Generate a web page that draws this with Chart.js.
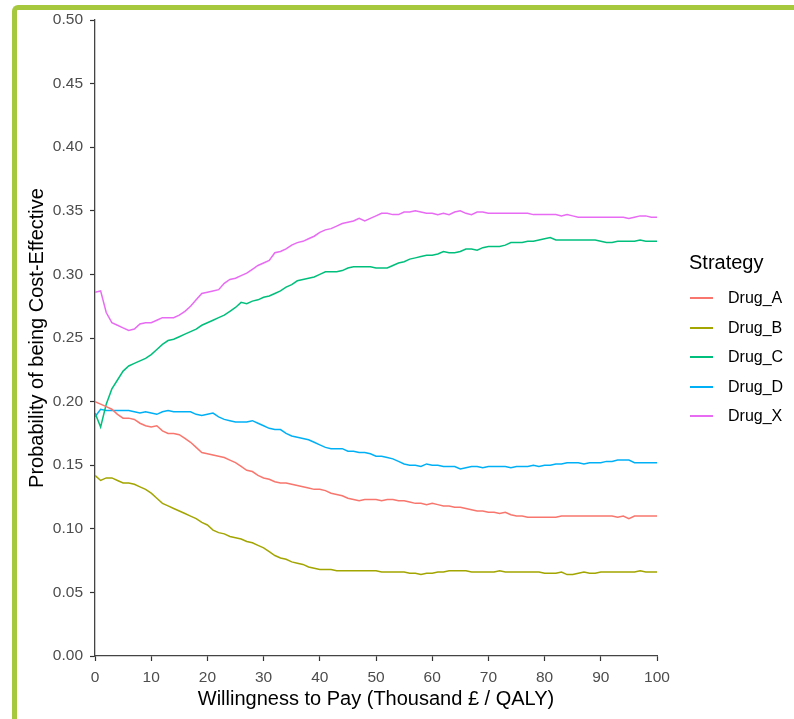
<!DOCTYPE html>
<html>
<head>
<meta charset="utf-8">
<script src="https://cdn.jsdelivr.net/npm/chart.js@4/dist/chart.umd.min.js"></script>
<style>
  html, body { margin:0; padding:0; background:#fff; width:794px; height:719px; overflow:hidden; }
  #frame { position:absolute; left:12px; top:5px; width:900px; height:900px;
           border-left:5px solid #A6C83D; border-top:5px solid #A6C83D; border-top-left-radius:6px; }
  #c { position:absolute; left:0; top:0; }
  #legend { position:absolute; left:689px; top:250px; font-family:"Liberation Sans", Arial, sans-serif; color:#000; }
  #legend .title { font-size:20px; line-height:24px; margin-bottom:9px; }
  #legend .row { position:relative; height:29.5px; font-size:16px; line-height:29.5px; }
  #legend .key { position:absolute; left:1px; top:14px; width:23px; height:2px; }
  #legend .lab { position:absolute; left:39px; top:0; white-space:nowrap; }
</style>
</head>
<body>
<div id="frame"></div>
<canvas id="c" width="794" height="719"></canvas>
<div id="legend"></div>
<script>
const wtp = [0,1,2,3,4,5,6,7,8,9,10,11,12,13,14,15,16,17,18,19,20,21,22,23,24,25,26,27,28,29,30,31,32,33,34,35,36,37,38,39,40,41,42,43,44,45,46,47,48,49,50,51,52,53,54,55,56,57,58,59,60,61,62,63,64,65,66,67,68,69,70,71,72,73,74,75,76,77,78,79,80,81,82,83,84,85,86,87,88,89,90,91,92,93,94,95,96,97,98,99,100];

const drugA = [0.200,0.198,0.196,0.194,0.190,0.187,0.187,0.186,0.183,0.181,0.180,0.181,0.177,0.175,0.175,0.174,0.171,0.168,0.164,0.160,0.159,0.158,0.157,0.156,0.154,0.152,0.149,0.146,0.145,0.142,0.140,0.139,0.137,0.136,0.136,0.135,0.134,0.133,0.132,0.131,0.131,0.130,0.128,0.127,0.126,0.124,0.123,0.122,0.123,0.123,0.123,0.122,0.123,0.123,0.122,0.122,0.121,0.120,0.120,0.119,0.120,0.119,0.118,0.118,0.117,0.117,0.116,0.115,0.114,0.114,0.113,0.113,0.112,0.113,0.111,0.110,0.110,0.109,0.109,0.109,0.109,0.109,0.109,0.110,0.110,0.110,0.110,0.110,0.110,0.110,0.110,0.110,0.110,0.109,0.110,0.108,0.110,0.110,0.110,0.110,0.110];

const drugB = [0.142,0.138,0.140,0.140,0.138,0.136,0.136,0.135,0.133,0.131,0.128,0.124,0.120,0.118,0.116,0.114,0.112,0.110,0.108,0.105,0.103,0.099,0.097,0.096,0.094,0.093,0.092,0.090,0.089,0.087,0.085,0.082,0.079,0.077,0.076,0.074,0.073,0.072,0.070,0.069,0.068,0.068,0.068,0.067,0.067,0.067,0.067,0.067,0.067,0.067,0.067,0.066,0.066,0.066,0.066,0.066,0.065,0.065,0.064,0.065,0.065,0.066,0.066,0.067,0.067,0.067,0.067,0.066,0.066,0.066,0.066,0.066,0.067,0.066,0.066,0.066,0.066,0.066,0.066,0.066,0.065,0.065,0.065,0.066,0.064,0.064,0.065,0.066,0.065,0.065,0.066,0.066,0.066,0.066,0.066,0.066,0.066,0.067,0.066,0.066,0.066];

const drugC = [0.191,0.180,0.198,0.210,0.217,0.224,0.228,0.230,0.232,0.234,0.237,0.241,0.245,0.248,0.249,0.251,0.253,0.255,0.257,0.260,0.262,0.264,0.266,0.268,0.271,0.274,0.278,0.277,0.279,0.280,0.282,0.283,0.285,0.287,0.290,0.292,0.295,0.296,0.297,0.298,0.300,0.302,0.302,0.302,0.303,0.305,0.306,0.306,0.306,0.306,0.305,0.305,0.305,0.307,0.309,0.310,0.312,0.313,0.314,0.315,0.315,0.316,0.318,0.317,0.317,0.318,0.320,0.320,0.319,0.321,0.322,0.322,0.322,0.323,0.325,0.325,0.325,0.326,0.326,0.327,0.328,0.329,0.327,0.327,0.327,0.327,0.327,0.327,0.327,0.327,0.326,0.325,0.325,0.326,0.326,0.326,0.326,0.327,0.326,0.326,0.326];

const drugD = [0.188,0.194,0.193,0.193,0.193,0.193,0.193,0.192,0.191,0.192,0.191,0.190,0.192,0.193,0.192,0.192,0.192,0.192,0.190,0.189,0.190,0.191,0.188,0.186,0.185,0.184,0.184,0.184,0.185,0.183,0.181,0.179,0.178,0.178,0.175,0.173,0.172,0.171,0.170,0.168,0.166,0.164,0.163,0.163,0.163,0.161,0.161,0.160,0.160,0.159,0.157,0.157,0.156,0.155,0.153,0.151,0.150,0.150,0.149,0.151,0.150,0.150,0.149,0.149,0.149,0.147,0.148,0.149,0.149,0.148,0.149,0.149,0.149,0.149,0.148,0.149,0.149,0.149,0.150,0.149,0.150,0.150,0.151,0.151,0.152,0.152,0.152,0.151,0.152,0.152,0.152,0.153,0.153,0.154,0.154,0.154,0.152,0.152,0.152,0.152,0.152];

const drugX = [0.286,0.287,0.270,0.262,0.260,0.258,0.256,0.257,0.261,0.262,0.262,0.264,0.266,0.266,0.266,0.268,0.271,0.275,0.280,0.285,0.286,0.287,0.288,0.293,0.296,0.297,0.299,0.301,0.304,0.307,0.309,0.311,0.317,0.318,0.320,0.323,0.325,0.326,0.328,0.330,0.333,0.335,0.336,0.338,0.340,0.341,0.342,0.344,0.342,0.344,0.346,0.348,0.348,0.347,0.347,0.349,0.349,0.350,0.349,0.348,0.348,0.347,0.348,0.347,0.349,0.350,0.348,0.347,0.349,0.349,0.348,0.348,0.348,0.348,0.348,0.348,0.348,0.348,0.347,0.347,0.347,0.347,0.347,0.346,0.347,0.346,0.345,0.345,0.345,0.345,0.345,0.345,0.345,0.345,0.345,0.344,0.345,0.346,0.346,0.345,0.345];

const strategies = ['Drug_A','Drug_B','Drug_C','Drug_D','Drug_X'];
const colours = ['#F8766D','#A3A500','#00BF7D','#00B0F6','#E76BF3'];
const yTickLabels = ['0.00','0.05','0.10','0.15','0.20','0.25','0.30','0.35','0.40','0.45','0.50'];
const xTickLabels = ['0','10','20','30','40','50','60','70','80','90','100'];

const seriesList = [drugA, drugB, drugC, drugD, drugX];
const FONT = '"Liberation Sans", Arial, sans-serif';

const datasets = seriesList.map((s, k) => ({
  label: strategies[k],
  data: wtp.map((x, i) => ({ x: x, y: s[i] })),
  borderColor: colours[k],
  backgroundColor: colours[k],
  borderWidth: 1.5,
  pointRadius: 0,
  tension: 0,
  fill: false
}));

new Chart(document.getElementById('c'), {
  type: 'line',
  data: { datasets },
  options: {
    responsive: false,
    animation: false,
    devicePixelRatio: 1,
    layout: { padding: { top: 20, right: 137, bottom: 0, left: 0 } },
    plugins: { legend: { display: false }, tooltip: { enabled: false } },
    scales: {
      x: {
        type: 'linear', min: 0, max: 100,
        ticks: { stepSize: 10, color: '#4D4D4D', font: { family: FONT, size: 15.5 }, padding: 7,
                 callback: (v, i) => xTickLabels[i] },
        grid: { drawOnChartArea: false, drawTicks: true, tickLength: 5, tickColor: '#333', tickWidth: 1.2 },
        border: { display: true, color: '#444', width: 1.3 },
        title: { display: true, text: 'Willingness to Pay (Thousand £ / QALY)', color: '#000',
                 font: { family: FONT, size: 20 }, padding: { top: 0, bottom: 8 } },
        afterFit: (s) => { s.height = 63; }
      },
      y: {
        type: 'linear', min: 0, max: 0.5,
        ticks: { stepSize: 0.05, color: '#4D4D4D', font: { family: FONT, size: 15.5 }, padding: 7,
                 callback: (v, i) => yTickLabels[i] },
        grid: { drawOnChartArea: false, drawTicks: true, tickLength: 5, tickColor: '#333', tickWidth: 1.2 },
        border: { display: true, color: '#444', width: 1.3 },
        title: { display: true, text: 'Probability of being Cost-Effective', color: '#000',
                 font: { family: FONT, size: 20 }, padding: { top: 25, bottom: 0 } },
        afterFit: (s) => { s.width = 95; }
      }
    }
  }
});

// Legend as HTML text
const lg = document.getElementById('legend');
const t = document.createElement('div'); t.className = 'title'; t.textContent = 'Strategy'; lg.appendChild(t);
strategies.forEach((name, k) => {
  const row = document.createElement('div'); row.className = 'row';
  const key = document.createElement('span'); key.className = 'key'; key.style.background = colours[k];
  const lab = document.createElement('span'); lab.className = 'lab'; lab.textContent = name;
  row.appendChild(key); row.appendChild(lab); lg.appendChild(row);
});
</script>
</body>
</html>
